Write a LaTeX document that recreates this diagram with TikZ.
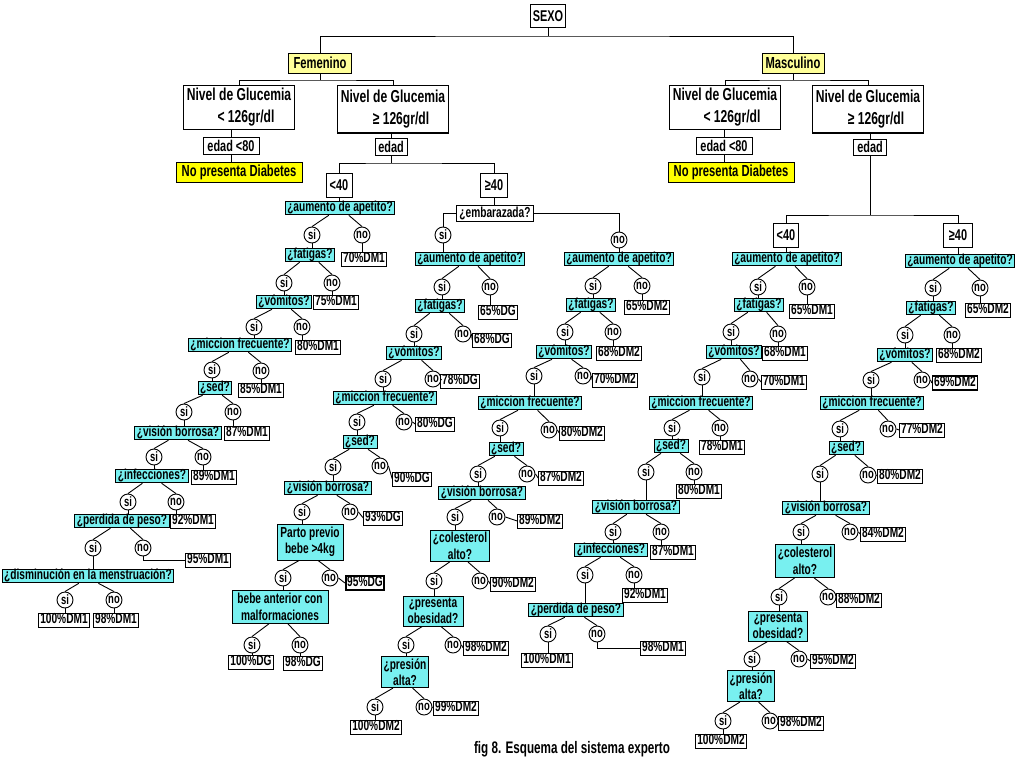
\documentclass[tikz,border=0pt]{standalone}
\usepackage{fontspec}
\setmainfont{Liberation Sans}[FakeStretch=0.7]
\usetikzlibrary{calc}
\definecolor{qc}{RGB}{120,240,240}
\definecolor{yl}{RGB}{255,255,153}
\definecolor{yd}{RGB}{255,255,0}
\newcommand\br[3]{\draw ($(#1.south)!0.4!(#1.south -| #2.north)$) -- (#2.north);\draw ($(#1.south)!0.4!(#1.south -| #3.north)$) -- (#3.north);}
\newcommand\dn[2]{\draw (#1.south) -- (#1.south |- #2.north);}
\newcommand\rt[2]{\draw (#1.east) -- (#2.west);}
\begin{document}
\begin{tikzpicture}[x=1pt,y=-1pt,line width=0.9pt,
 q/.style={draw,fill=qc,font=\bfseries\fontsize{14.5}{17}\selectfont,inner xsep=2pt,inner ysep=0.6pt,text height=10pt,text depth=2.5pt},
 qq/.style={draw,fill=qc,font=\bfseries\fontsize{14.5}{16.5}\selectfont,align=center,inner sep=2pt},
 lf/.style={draw,fill=white,font=\bfseries\fontsize{14.5}{17}\selectfont,inner xsep=1.5pt,inner ysep=0.8pt,text height=10pt,text depth=2.5pt},
 c/.style={draw,circle,fill=white,inner sep=0pt,minimum size=16pt,font=\bfseries\fontsize{13.5}{13}\selectfont},
 wb/.style={draw,fill=white,font=\bfseries\fontsize{15.6}{17}\selectfont,inner sep=2pt},
 yb/.style={draw,font=\bfseries\fontsize{16}{17}\selectfont,inner sep=2pt,minimum height=20pt},
 ng/.style={draw,fill=white,font=\bfseries\fontsize{17.3}{22}\selectfont,align=center,inner sep=2pt,minimum width=111pt}]
\useasboundingbox (0,0) rectangle (1022,760);
% top
\node[wb,minimum width=35pt,minimum height=23pt] (sexo) at (548,16) {SEXO};
\node[yb,fill=yl,minimum width=63pt] (fem) at (320,63) {Femenino};
\node[yb,fill=yl,minimum width=62pt] (mas) at (793,63) {Masculino};
\coordinate (js) at (548,36);
\draw (sexo.south) -- (js);
\draw (fem.north) |- (js) -| (mas.north);
% femenino
\node[ng,minimum height=44pt] (ng1) at (239,107) {Nivel de Glucemia\\\hspace*{14pt}< 126gr/dl};
\node[ng,minimum height=48pt] (ng2) at (393,109) {Nivel de Glucemia\\\hspace*{16pt}≥ 126gr/dl};
\draw[line width=2pt] (ng2.south west) -- (ng2.south east);
\coordinate (jf) at (320,80);
\draw (fem.south) -- (jf);
\draw (ng1.north) |- (jf) -| (ng2.north);
\node[wb,minimum width=56pt,minimum height=17pt] (e80a) at (231,146) {edad <80};
\node[yb,fill=yd,minimum width=126pt] (npd1) at (239,172) {No presenta Diabetes};
\dn{e80a}{npd1}
\draw (e80a.north) -- (e80a.north |- ng1.south);
\node[wb,minimum width=32pt,minimum height=17pt] (edf) at (391,147) {edad};
\draw (edf.north) -- (edf.north |- ng2.south);
\node[wb,minimum width=26pt,minimum height=24pt] (lt40a) at (339,185) {<40};
\node[wb,minimum width=27pt,minimum height=24pt] (ge40a) at (494,185) {≥40};
\coordinate (jfe) at (391,163);
\draw (edf.south) -- (jfe);
\draw (lt40a.north) |- (jfe) -| (ge40a.north);
% masculino
\node[ng,minimum height=44pt] (ng3) at (725,107) {Nivel de Glucemia\\\hspace*{14pt}< 126gr/dl};
\node[ng,minimum height=48pt] (ng4) at (868,109) {Nivel de Glucemia\\\hspace*{16pt}≥ 126gr/dl};
\draw[line width=2pt] (ng4.south west) -- (ng4.south east);
\coordinate (jm) at (793,80);
\draw (mas.south) -- (jm);
\draw (ng3.north) |- (jm) -| (ng4.north);
\node[wb,minimum width=56pt,minimum height=17pt] (e80b) at (724,146) {edad <80};
\node[yb,fill=yd,minimum width=126pt] (npd2) at (731,172) {No presenta Diabetes};
\dn{e80b}{npd2}
\draw (e80b.north) -- (e80b.north |- ng3.south);
\node[wb,minimum width=33pt,minimum height=16pt] (edm) at (870,147) {edad};
\draw (edm.north) -- (edm.north |- ng4.south);
\node[wb,minimum width=25pt,minimum height=24pt] (lt40b) at (786,235) {<40};
\node[wb,minimum width=29pt,minimum height=24pt] (ge40b) at (958,235) {≥40};
\coordinate (jme) at (870,215);
\draw (edm.south) -- (jme);
\draw (lt40b.north) |- (jme) -| (ge40b.north);
% ===== Branch A : F, <40
\node[q] (a1) at (340,208) {¿aumento de apetito?};
\dn{lt40a}{a1}
\node[c] (a1s) at (312,235) {si}; \node[c] (a1n) at (362,235) {no};
\node[lf] (a1L) at (364,259) {70\%DM1};
\node[q] (a2) at (310,255) {¿fatigas?};
\node[c] (a2s) at (284,283) {si}; \node[c] (a2n) at (332,283) {no};
\node[lf] (a2L) at (336,302) {75\%DM1};
\node[q] (a3) at (284,302) {¿vómitos?};
\node[c] (a3s) at (254,327) {si}; \node[c] (a3n) at (302,327) {no};
\node[lf] (a3L) at (318,347) {80\%DM1};
\node[q] (a4) at (240,345) {¿miccion frecuente?};
\node[c] (a4s) at (212,370) {si}; \node[c] (a4n) at (261,371) {no};
\node[lf] (a4L) at (261,390) {85\%DM1};
\node[q] (a5) at (215,388) {¿sed?};
\node[c] (a5s) at (184,412) {si}; \node[c] (a5n) at (233,412) {no};
\node[lf] (a5L) at (247,433) {87\%DM1};
\node[q] (a6) at (178,433) {¿visión borrosa?};
\node[c] (a6s) at (154,457) {si}; \node[c] (a6n) at (203,457) {no};
\node[lf] (a6L) at (214,477) {89\%DM1};
\node[q] (a7) at (152,476) {¿infecciones?};
\node[c] (a7s) at (128,502) {si}; \node[c] (a7n) at (176,502) {no};
\node[lf] (a7L) at (193,521) {92\%DM1};
\node[q] (a8) at (122,521) {¿perdida de peso?};
\node[c] (a8s) at (93,548) {si}; \node[c] (a8n) at (143,548) {no};
\node[lf] (a8L) at (208,560) {95\%DM1};
\node[q] (a9) at (88,576) {¿disminución en la menstruación?};
\node[c] (a9s) at (65,600) {si}; \node[c] (a9n) at (114,600) {no};
\node[lf] (a9L1) at (64,620) {100\%DM1};
\node[lf] (a9L2) at (116,620) {98\%DM1};
\br{a1}{a1s}{a1n} \dn{a1n}{a1L} \dn{a1s}{a2}
\br{a2}{a2s}{a2n} \dn{a2n}{a2L} \dn{a2s}{a3}
\br{a3}{a3s}{a3n} \dn{a3n}{a3L} \dn{a3s}{a4}
\br{a4}{a4s}{a4n} \dn{a4n}{a4L} \dn{a4s}{a5}
\br{a5}{a5s}{a5n} \dn{a5n}{a5L} \dn{a5s}{a6}
\br{a6}{a6s}{a6n} \dn{a6n}{a6L} \dn{a6s}{a7}
\br{a7}{a7s}{a7n} \dn{a7n}{a7L} \dn{a7s}{a8}
\br{a8}{a8s}{a8n} \draw (a8n.south) |- (a8L.west); \dn{a8s}{a9}
\br{a9}{a9s}{a9n} \dn{a9s}{a9L1} \dn{a9n}{a9L2}
% ===== Branch B : F, >=40
\node[wb,font=\bfseries\fontsize{14.5}{17}\selectfont,minimum width=77pt,minimum height=16pt,inner sep=1pt] (b0) at (495,213) {¿embarazada?};
\dn{ge40a}{b0}
\node[c] (b0s) at (443,235) {si}; \node[c] (b0n) at (619,240) {no};
\draw (b0.west) -| (b0s.north);
\draw (b0.east) -| (b0n.north);
\node[q] (b1) at (470,259) {¿aumento de apetito?};
\dn{b0s}{b1}
\node[c] (b1s) at (442,287) {si}; \node[c] (b1n) at (490,287) {no};
\node[lf] (b1L) at (498,312) {65\%DG};
\node[q] (b2) at (440,306) {¿fatigas?};
\node[c] (b2s) at (414,334) {si}; \node[c] (b2n) at (463,334) {no};
\node[lf] (b2L) at (492,340) {68\%DG};
\node[q] (b3) at (414,353) {¿vómitos?};
\node[c] (b3s) at (383,379) {si}; \node[c] (b3n) at (433,379) {no};
\node[lf] (b3L) at (460,381) {78\%DG};
\node[q] (b4) at (385,398) {¿miccion frecuente?};
\node[c] (b4s) at (357,422) {si}; \node[c] (b4n) at (404,422) {no};
\node[lf] (b4L) at (435,424) {80\%DG};
\node[q] (b5) at (360,442) {¿sed?};
\node[c] (b5s) at (333,467) {si}; \node[c] (b5n) at (380,466) {no};
\node[lf] (b5L) at (412,479) {90\%DG};
\node[q] (b6) at (328,488) {¿visión borrosa?};
\node[c] (b6s) at (302,512) {si}; \node[c] (b6n) at (350,512) {no};
\node[lf] (b6L) at (383,518) {93\%DG};
\node[qq,minimum width=66pt,minimum height=36pt] (b7) at (310,542) {Parto previo\\bebe >4kg};
\node[c] (b7s) at (283,578) {si}; \node[c] (b7n) at (330,578) {no};
\node[lf,line width=1.6pt] (b7L) at (365,583) {95\%DG};
\node[qq,minimum width=96pt,minimum height=33pt] (b8) at (280,607) {bebe anterior con\\malformaciones};
\node[c] (b8s) at (252,645) {si}; \node[c] (b8n) at (300,645) {no};
\node[lf] (b8L1) at (251,662) {100\%DG};
\node[lf] (b8L2) at (303,663) {98\%DG};
\br{b1}{b1s}{b1n} \dn{b1n}{b1L} \dn{b1s}{b2}
\br{b2}{b2s}{b2n} \rt{b2n}{b2L} \dn{b2s}{b3}
\br{b3}{b3s}{b3n} \rt{b3n}{b3L} \dn{b3s}{b4}
\br{b4}{b4s}{b4n} \rt{b4n}{b4L} \dn{b4s}{b5}
\br{b5}{b5s}{b5n} \rt{b5n}{b5L} \dn{b5s}{b6}
\br{b6}{b6s}{b6n} \rt{b6n}{b6L} \dn{b6s}{b7}
\br{b7}{b7s}{b7n} \rt{b7n}{b7L} \dn{b7s}{b8}
\br{b8}{b8s}{b8n} \dn{b8s}{b8L1} \dn{b8n}{b8L2}
% embarazada no
\node[q] (c1) at (619,259) {¿aumento de apetito?};
\dn{b0n}{c1}
\node[c] (c1s) at (593,286) {si}; \node[c] (c1n) at (642,286) {no};
\node[lf] (c1L) at (647,307) {65\%DM2};
\node[q] (c2) at (591,305) {¿fatigas?};
\node[c] (c2s) at (565,332) {si}; \node[c] (c2n) at (613,332) {no};
\node[lf] (c2L) at (619,353) {68\%DM2};
\node[q] (c3) at (564,352) {¿vómitos?};
\node[c] (c3s) at (534,376) {si}; \node[c] (c3n) at (583,376) {no};
\node[lf] (c3L) at (615,380) {70\%DM2};
\node[q] (c4) at (530,403) {¿miccion frecuente?};
\node[c] (c4s) at (500,428) {si}; \node[c] (c4n) at (549,430) {no};
\node[lf] (c4L) at (582,433) {80\%DM2};
\node[q] (c5) at (506,449) {¿sed?};
\node[c] (c5s) at (478,474) {si}; \node[c] (c5n) at (527,474) {no};
\node[lf] (c5L) at (561,478) {87\%DM2};
\node[q] (c6) at (482,493) {¿visión borrosa?};
\node[c] (c6s) at (455,517) {si}; \node[c] (c6n) at (497,517) {no};
\node[lf] (c6L) at (540,521) {89\%DM2};
\node[qq,minimum width=56pt,minimum height=31pt] (c7) at (460,546) {¿colesterol\\alto?};
\node[c] (c7s) at (434,581) {si}; \node[c] (c7n) at (480,581) {no};
\node[lf] (c7L) at (513,584) {90\%DM2};
\node[qq,minimum width=60pt,minimum height=29pt] (c8) at (433,611) {¿presenta\\obesidad?};
\node[c] (c8s) at (406,645) {si}; \node[c] (c8n) at (453,645) {no};
\node[lf] (c8L) at (486,648) {98\%DM2};
\node[qq,minimum width=47pt,minimum height=31pt] (c9) at (405,672) {¿presión\\alta?};
\node[c] (c9s) at (375,707) {si}; \node[c] (c9n) at (424,707) {no};
\node[lf] (c9L) at (456,708) {99\%DM2};
\node[lf] (c9L2) at (376,727) {100\%DM2};
\br{c1}{c1s}{c1n} \dn{c1n}{c1L} \dn{c1s}{c2}
\br{c2}{c2s}{c2n} \dn{c2n}{c2L} \dn{c2s}{c3}
\br{c3}{c3s}{c3n} \rt{c3n}{c3L} \dn{c3s}{c4}
\br{c4}{c4s}{c4n} \rt{c4n}{c4L} \dn{c4s}{c5}
\br{c5}{c5s}{c5n} \rt{c5n}{c5L} \dn{c5s}{c6}
\br{c6}{c6s}{c6n} \rt{c6n}{c6L} \dn{c6s}{c7}
\br{c7}{c7s}{c7n} \rt{c7n}{c7L} \dn{c7s}{c8}
\br{c8}{c8s}{c8n} \rt{c8n}{c8L} \dn{c8s}{c9}
\br{c9}{c9s}{c9n} \rt{c9n}{c9L} \dn{c9s}{c9L2}
% ===== Branch D : M, <40
\node[q] (d1) at (787,259) {¿aumento de apetito?};
\dn{lt40b}{d1}
\node[c] (d1s) at (758,287) {si}; \node[c] (d1n) at (807,287) {no};
\node[lf] (d1L) at (812,311) {65\%DM1};
\node[q] (d2) at (759,305) {¿fatigas?};
\node[c] (d2s) at (731,332) {si}; \node[c] (d2n) at (778,334) {no};
\node[lf] (d2L) at (785,353) {68\%DM1};
\node[q] (d3) at (734,352) {¿vómitos?};
\node[c] (d3s) at (702,377) {si}; \node[c] (d3n) at (750,379) {no};
\node[lf] (d3L) at (784,382) {70\%DM1};
\node[q] (d4) at (701,403) {¿miccion frecuente?};
\node[c] (d4s) at (672,428) {si}; \node[c] (d4n) at (720,428) {no};
\node[lf] (d4L) at (722,447) {78\%DM1};
\node[q] (d5) at (671,446) {¿sed?};
\node[c] (d5s) at (646,472) {si}; \node[c] (d5n) at (694,472) {no};
\node[lf] (d5L) at (699,491) {80\%DM1};
\node[q] (d6) at (636,507) {¿visión borrosa?};
\node[c] (d6s) at (613,532) {si}; \node[c] (d6n) at (661,532) {no};
\node[lf] (d6L) at (673,552) {87\%DM1};
\node[q] (d7) at (611,550) {¿infecciones?};
\node[c] (d7s) at (585,575) {si}; \node[c] (d7n) at (634,575) {no};
\node[lf] (d7L) at (645,595) {92\%DM1};
\node[q] (d8) at (576,610) {¿perdida de peso?};
\node[c] (d8s) at (548,634) {si}; \node[c] (d8n) at (597,634) {no};
\node[lf] (d8L1) at (547,660) {100\%DM1};
\node[lf] (d8L2) at (663,648) {98\%DM1};
\br{d1}{d1s}{d1n} \dn{d1n}{d1L} \dn{d1s}{d2}
\br{d2}{d2s}{d2n} \dn{d2n}{d2L} \dn{d2s}{d3}
\br{d3}{d3s}{d3n} \rt{d3n}{d3L} \dn{d3s}{d4}
\br{d4}{d4s}{d4n} \dn{d4n}{d4L} \dn{d4s}{d5}
\br{d5}{d5s}{d5n} \dn{d5n}{d5L} \dn{d5s}{d6}
\br{d6}{d6s}{d6n} \dn{d6n}{d6L} \dn{d6s}{d7}
\br{d7}{d7s}{d7n} \dn{d7n}{d7L} \dn{d7s}{d8}
\br{d8}{d8s}{d8n} \dn{d8s}{d8L1} \draw (d8n.south) |- (d8L2.west);
% ===== Branch E : M, >=40
\node[q] (e1) at (960,261) {¿aumento de apetito?};
\dn{ge40b}{e1}
\node[c] (e1s) at (933,288) {si}; \node[c] (e1n) at (980,288) {no};
\node[lf] (e1L) at (988,310) {65\%DM2};
\node[q] (e2) at (931,308) {¿fatigas?};
\node[c] (e2s) at (905,335) {si}; \node[c] (e2n) at (952,335) {no};
\node[lf] (e2L) at (959,355) {68\%DM2};
\node[q] (e3) at (905,355) {¿vómitos?};
\node[c] (e3s) at (871,380) {si}; \node[c] (e3n) at (922,380) {no};
\node[lf,line width=1.6pt] (e3L) at (955,383) {69\%DM2};
\node[q] (e4) at (872,403) {¿miccion frecuente?};
\node[c] (e4s) at (840,429) {si}; \node[c] (e4n) at (888,429) {no};
\node[lf] (e4L) at (922,430) {77\%DM2};
\node[q] (e5) at (846,448) {¿sed?};
\node[c] (e5s) at (820,474) {si}; \node[c] (e5n) at (868,475) {no};
\node[lf] (e5L) at (900,476) {80\%DM2};
\node[q] (e6) at (826,508) {¿visión borrosa?};
\node[c] (e6s) at (801,532) {si}; \node[c] (e6n) at (850,532) {no};
\node[lf] (e6L) at (883,534) {84\%DM2};
\node[qq,minimum width=57pt,minimum height=33pt] (e7) at (805,561) {¿colesterol\\alto?};
\node[c] (e7s) at (779,597) {si}; \node[c] (e7n) at (828,597) {no};
\node[lf] (e7L) at (859,600) {88\%DM2};
\node[qq,minimum width=59pt,minimum height=30pt] (e8) at (778,626) {¿presenta\\obesidad?};
\node[c] (e8s) at (752,659) {si}; \node[c] (e8n) at (799,659) {no};
\node[lf] (e8L) at (833,661) {95\%DM2};
\node[qq,minimum width=47pt,minimum height=30pt] (e9) at (751,686) {¿presión\\alta?};
\node[c] (e9s) at (723,721) {si}; \node[c] (e9n) at (770,721) {no};
\node[lf] (e9L) at (801,723) {98\%DM2};
\node[lf] (e9L2) at (721,741) {100\%DM2};
\br{e1}{e1s}{e1n} \dn{e1n}{e1L} \dn{e1s}{e2}
\br{e2}{e2s}{e2n} \dn{e2n}{e2L} \dn{e2s}{e3}
\br{e3}{e3s}{e3n} \rt{e3n}{e3L} \dn{e3s}{e4}
\br{e4}{e4s}{e4n} \rt{e4n}{e4L} \dn{e4s}{e5}
\br{e5}{e5s}{e5n} \rt{e5n}{e5L} \dn{e5s}{e6}
\br{e6}{e6s}{e6n} \rt{e6n}{e6L} \dn{e6s}{e7}
\br{e7}{e7s}{e7n} \rt{e7n}{e7L} \dn{e7s}{e8}
\br{e8}{e8s}{e8n} \rt{e8n}{e8L} \dn{e8s}{e9}
\br{e9}{e9s}{e9n} \rt{e9n}{e9L} \dn{e9s}{e9L2}
% caption
\node[font=\bfseries\fontsize{16.7}{18}\selectfont,inner sep=0pt] (cap) at (572,749) {fig 8. Esquema del sistema experto};
\end{tikzpicture}
\end{document}
